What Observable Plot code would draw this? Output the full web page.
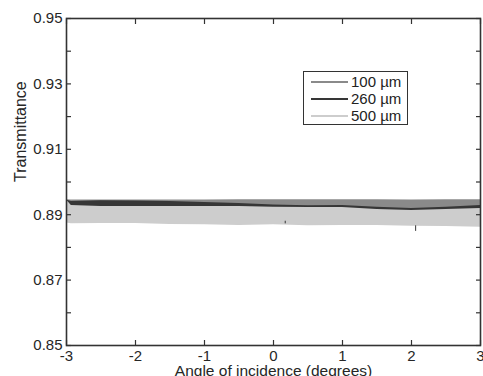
<!DOCTYPE html>
<html><head><meta charset="utf-8">
<script src="https://cdn.jsdelivr.net/npm/d3@7"></script>
<script src="https://cdn.jsdelivr.net/npm/@observablehq/plot@0.6"></script>
<style>
body{margin:0;background:#fff;}
#wrap{position:relative;width:483px;height:376px;overflow:hidden;font-family:"Liberation Sans",Arial,sans-serif;}
#legend{position:absolute;left:303px;top:71px;width:105px;height:54px;border:1px solid #333;background:#fff;box-sizing:border-box;}
.row{position:absolute;left:0;height:17px;display:flex;align-items:center;font-size:15px;color:#222;white-space:nowrap}
.sw{width:37px;height:0;border-top:2px solid;margin-left:7px;margin-right:3px}
</style></head><body><div id="wrap"></div>
<script>
// Data (envelopes of the noisy traces)
const angles   = [-3, -2.93, -2.5, -2, -1.5, -1, -0.5, 0, 0.5, 1, 1.5, 2, 2.5, 3];
const um100Hi  = [0.8946, 0.8945, 0.8945, 0.8945, 0.8945, 0.8945, 0.8946, 0.8946, 0.8946, 0.8946, 0.8946, 0.8945, 0.8946, 0.8946];
const um100Lo  = [0.8905, 0.8905, 0.8906, 0.8906, 0.8905, 0.8905, 0.8906, 0.8905, 0.8905, 0.8906, 0.8905, 0.8905, 0.8906, 0.8905];
const um260Hi  = [0.8945, 0.8940, 0.8943, 0.8942, 0.8940, 0.8937, 0.8934, 0.8930, 0.8927, 0.8928, 0.8923, 0.8919, 0.8923, 0.8928];
const um260Lo  = [0.8900, 0.8905, 0.8910, 0.8910, 0.8910, 0.8910, 0.8908, 0.8905, 0.8902, 0.8902, 0.8900, 0.8898, 0.8900, 0.8902];
const um500Hi  = [0.8945, 0.8928, 0.8925, 0.8925, 0.8925, 0.8925, 0.8925, 0.8923, 0.8922, 0.8922, 0.8916, 0.8913, 0.8916, 0.8919];
const um500Lo  = [0.8875, 0.8872, 0.8873, 0.8873, 0.8870, 0.8869, 0.8867, 0.8869, 0.8866, 0.8867, 0.8867, 0.8865, 0.8864, 0.8862];
const spikeAngles = [2.06, 0.17];
const spikeLo     = [0.8849, 0.8872];
const spikeHi     = [0.8866, 0.8880];

const seriesNames  = ["100 µm", "260 µm", "500 µm"];
const seriesColors = ["#8a8a8a", "#363636", "#cdcdcd"];
const xTicks = [-3, -2, -1, 0, 1, 2, 3];
const xTickLabels = ["-3", "-2", "-1", "0", "1", "2", "3"];
const yTicks = [0.85, 0.86, 0.87, 0.88, 0.89, 0.90, 0.91, 0.92, 0.93, 0.94, 0.95];
const yTickLabels = ["0.85", "", "0.87", "", "0.89", "", "0.91", "", "0.93", "", "0.95"];
const xLabel = "Angle of incidence (degrees)";
const yLabel = "Transmittance";

const his = [um100Hi, um260Hi, um500Hi];
const los = [um100Lo, um260Lo, um500Lo];
const bands = seriesNames.map((s, k) => angles.map((a, i) => ({angle: a, lo: los[k][i], hi: his[k][i], series: s})));
const spikes = spikeAngles.map((a, i) => ({angle: a, lo: spikeLo[i], hi: spikeHi[i]}));

const axisColor = "#333";
const chart = Plot.plot({
  width: 483, height: 376,
  marginLeft: 66, marginRight: 3, marginTop: 18, marginBottom: 31,
  x: {domain: [-3, 3]},
  y: {domain: [0.85, 0.95]},
  style: {fontFamily: "'Liberation Sans', Arial, sans-serif", fontSize: "15px", color: "#262626", background: "white"},
  marks: [
    ...bands.map((b, k) => Plot.areaY(b, {x: "angle", y1: "lo", y2: "hi", fill: seriesColors[k], curve: "linear"})),
    Plot.ruleX(spikes, {x: "angle", y1: "lo", y2: "hi", stroke: seriesColors[1], strokeWidth: 1}),
    Plot.axisX({anchor: "bottom", ticks: xTicks, tickSize: 0, tickPadding: 5, tickFormat: (d, i) => xTickLabels[i], label: null}),
    Plot.axisX({anchor: "bottom", ticks: xTicks, tickSize: -5, tickFormat: () => "", label: null, stroke: axisColor, strokeWidth: 1.2}),
    Plot.axisX({anchor: "top", ticks: xTicks, tickSize: -5, tickFormat: () => "", label: null, stroke: axisColor, strokeWidth: 1.2}),
    Plot.axisY({anchor: "left", ticks: yTicks, tickSize: 0, tickPadding: 4, tickFormat: (d, i) => yTickLabels[i], label: null}),
    Plot.axisY({anchor: "left", ticks: yTicks, tickSize: -5, tickFormat: () => "", label: null, stroke: axisColor, strokeWidth: 1.2}),
    Plot.axisY({anchor: "right", ticks: yTicks, tickSize: -5, tickFormat: () => "", label: null, stroke: axisColor, strokeWidth: 1.2}),
    Plot.frame({stroke: axisColor, strokeWidth: 1.6}),
    Plot.text([xLabel], {text: d => d, frameAnchor: "bottom", dy: 30, lineAnchor: "bottom", fontSize: 15.5, fill: "#262626"}),
    Plot.text([yLabel], {text: d => d, frameAnchor: "left", dx: -46, rotate: -90, fontSize: 16, fill: "#262626"})
  ]
});
const wrap = document.getElementById("wrap");
wrap.appendChild(chart);

const legend = document.createElement("div");
legend.id = "legend";
seriesNames.forEach((s, k) => {
  const row = document.createElement("div");
  row.className = "row";
  row.style.top = (1 + k * 17) + "px";
  const sw = document.createElement("span");
  sw.className = "sw";
  sw.style.borderTopColor = seriesColors[k];
  row.appendChild(sw);
  const t = document.createElement("span");
  t.textContent = s;
  row.appendChild(t);
  legend.appendChild(row);
});
wrap.appendChild(legend);
</script></body></html>
